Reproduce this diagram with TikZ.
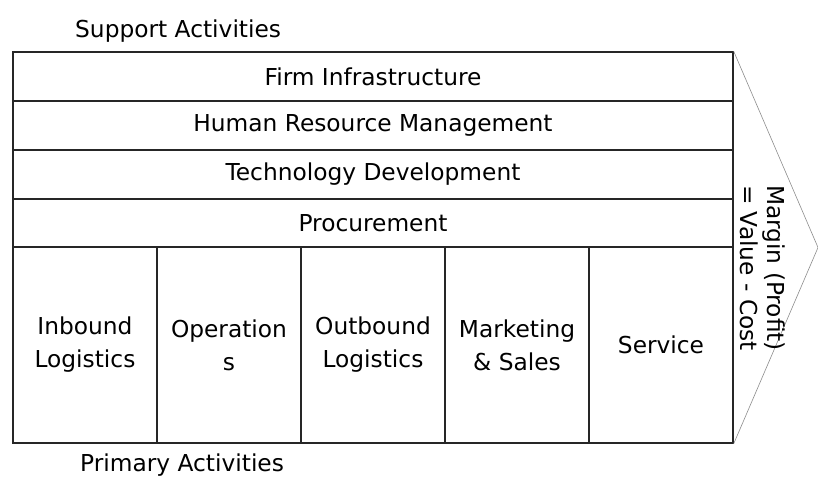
\documentclass[tikz,border=0pt]{standalone}
\usepackage{fontspec}
\setmainfont{DejaVu Sans}
\begin{document}
\begin{tikzpicture}[x=1pt,y=-1pt,
  txt/.style={font=\fontsize{23.3}{33}\selectfont},
  cell/.style={txt,draw=black!85,line width=1.4pt,inner sep=0pt,align=center},
  rowbox/.style={cell,minimum width=720pt,minimum height=49pt},
  colbox/.style={cell,minimum width=144pt,minimum height=196pt},
  lbl/.style={txt,anchor=west,inner sep=0pt}]
\useasboundingbox (0,0) rectangle (818,480);
\node[rowbox] (fi) at (373,76.5) {Firm Infrastructure};
\node[rowbox] (hr) at (373,125.5) {Human Resource Management};
\node[rowbox] (td) at (373,174.5) {Technology Development};
\node[rowbox,minimum height=48pt] (pr) at (373,223) {Procurement};
\node[colbox] (il) at (85,345) {Inbound\\Logistics};
\node[colbox] (op) at (229,345) {Operation\\s};
\node[colbox] (ol) at (373,345) {Outbound\\Logistics};
\node[colbox] (ms) at (517,345) {Marketing\\\& Sales};
\node[colbox] (sv) at (661,345) {Service};
\coordinate (tip) at (818,247.5);
\draw[black!45,line width=0.6pt] (fi.north east) -- (tip) -- (sv.south east);
\node[font=\fontsize{23.3}{27}\selectfont,align=center,rotate=-90,inner sep=0pt] (mg) at (763,268) {Margin (Profit)\\= Value - Cost};
\node[lbl] (sa) at (75,31) {Support Activities};
\node[lbl] (pa) at (80,465) {Primary Activities};
\end{tikzpicture}
\end{document}
